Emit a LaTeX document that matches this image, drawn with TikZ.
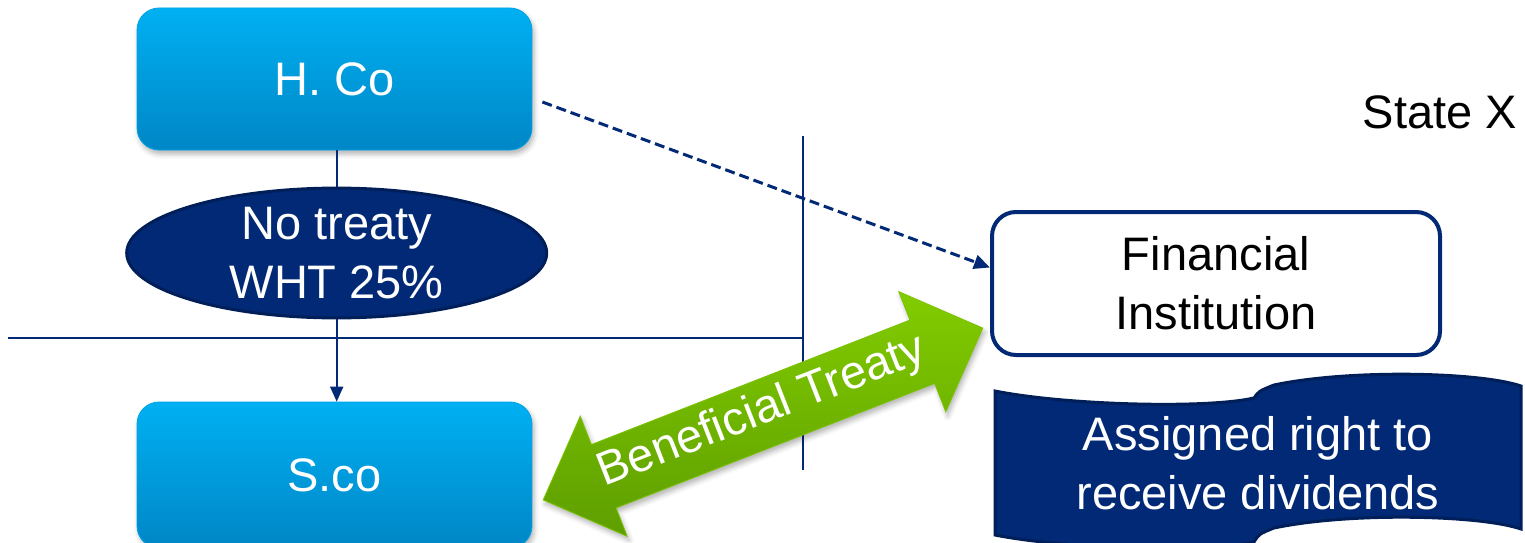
\documentclass[tikz,border=0pt]{standalone}
\usepackage{fontspec}
\setmainfont{Liberation Sans}
\usetikzlibrary{shapes.geometric,arrows.meta,shadows.blur,calc}

\definecolor{navy}{RGB}{1,41,117}
\definecolor{navydark}{RGB}{0,30,88}
\definecolor{skytop}{RGB}{0,176,242}
\definecolor{skybot}{RGB}{0,134,198}
\definecolor{limetop}{RGB}{130,204,0}
\definecolor{limebot}{RGB}{94,158,0}

\tikzset{
  bigtext/.style={font=\fontsize{47}{59}\selectfont, align=center, inner sep=0pt},
  softshadow/.style={blur shadow={shadow xshift=2pt, shadow yshift=-4pt,
      shadow blur radius=5pt, shadow opacity=30}},
  entity/.style={bigtext, rounded corners=22pt, top color=skytop, bottom color=skybot,
      draw=skytop!70!skybot, line width=0.8pt, minimum width=395pt, text=white, softshadow},
  oval/.style={bigtext, ellipse, fill=navy, draw=navydark, line width=3pt,
      minimum width=420pt, minimum height=119pt, text=white},
  institution/.style={bigtext, rounded corners=24pt, fill=white, draw=navy,
      line width=4pt, minimum width=448pt, minimum height=143pt, text=black},
  rule/.style={draw=navy, line width=2pt},
  flow/.style={rule, -{Triangle[length=15pt,width=13pt]}},
  dashflow/.style={draw=navy, line width=3pt, dash pattern=on 10pt off 5pt,
      -{Triangle[length=16pt,width=14pt]}},
  bandshape/.style={fill=navy, draw=navydark, line width=3pt},
  greenarrow/.style={top color=limetop, bottom color=limebot, draw=limetop!80!limebot,
      line width=0.8pt, softshadow},
}

\begin{document}
\begin{tikzpicture}[x=1pt,y=-1pt]
  \useasboundingbox (0,0) rectangle (1525,543);

  % entities
  \node[entity, minimum height=142pt] (hco) at (334.5,79) {H. Co};
  \node[entity, minimum height=146pt] (sco) at (334.5,475) {S.co};
  \node[oval] (wht) at (336.7,253) {No treaty\\WHT 25\%};
  \node[institution] (fi) at (1216,283.5) {Financial\\Institution};
  \node[bigtext, text=black] (state) at (1440,112.5) {State X};

  % country borders
  \coordinate (hl) at (8,338);
  \coordinate (hr) at (802.5,338);
  \coordinate (vt) at (802.5,136);
  \coordinate (vb) at (802.5,470);
  \draw[rule] (hl) -- (hr);
  \draw[rule] (vt) -- (vb);

  % dividend flow
  \draw[rule] (hco.south -| wht.north) -- (wht.north);
  \draw[flow] (wht.south) -- (wht.south |- sco.north);

  % beneficial ownership link
  \draw[dashflow] ($(hco.east)+(10,23)$) -- ($(fi.west)+(0,-16)$);

  % assigned-right banner
  \path[bandshape]
    (995,391) .. controls (1065,405) and (1205,409) .. (1254,398)
    .. controls (1259,391) .. (1274,385)
    .. controls (1350,369) and (1480,372) .. (1521,386)
    -- (1521,529)
    .. controls (1480,515) and (1350,512) .. (1274,528)
    .. controls (1259,534) .. (1254,542)
    .. controls (1205,553) and (1065,549) .. (995,535)
    -- cycle;
  \node[bigtext, text=white] (assign) at (1258,463) {Assigned right to\\receive dividends};

  % treaty block arrow
  \begin{scope}[shift={(763,414)}, rotate=21.35]
    \path[greenarrow]
      (-236,0) -- (-171,64.5) -- (-171,34) -- (171,34) -- (171,64.5)
      -- (236,0) -- (171,-64.5) -- (171,-34) -- (-171,-34) -- (-171,-64.5) -- cycle;
    \node[bigtext, text=white, rotate=21.35] (treaty) at (0,-2) {Beneficial Treaty};
  \end{scope}
\end{tikzpicture}
\end{document}
